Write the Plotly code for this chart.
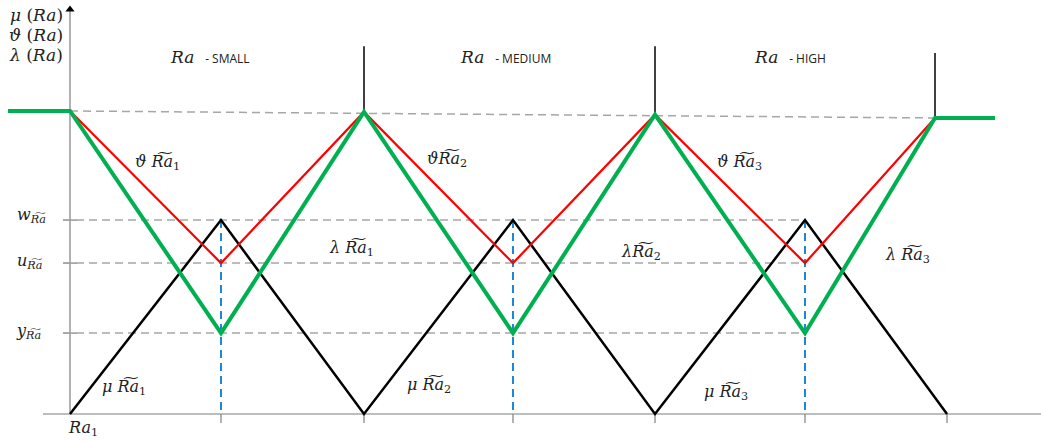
import plotly.graph_objects as go

# ---- data (x in arbitrary Ra units, y = membership) ----
ra_knots = [0, 151, 294, 443, 585, 735, 877]          # Ra1 ... Ra7 tick positions
peak_x = [0, 294, 585, 865]                            # peaks of the theta / lambda curves
peak_level = [1.0, 0.997, 0.988, 0.977]                # top level (slightly sloping)
trough_x = [151, 443, 735]                             # centres of the triangles
w_level = 0.640
u_level = 0.498
y_level = 0.267
flat_left_x = -62
flat_right_x = 925
post_top = [1.214, 1.214, 1.191]                       # top of vertical posts over peaks

mu_x = ra_knots
mu_y = [0, w_level, 0, w_level, 0, w_level, 0]
theta_x = [peak_x[0], trough_x[0], peak_x[1], trough_x[1], peak_x[2], trough_x[2], peak_x[3]]
theta_y = [peak_level[0], u_level, peak_level[1], u_level, peak_level[2], u_level, peak_level[3]]
lam_x = [flat_left_x] + theta_x + [flat_right_x]
lam_y = [peak_level[0], peak_level[0], y_level, peak_level[1], y_level, peak_level[2],
         y_level, peak_level[3], peak_level[3]]

TILDE_RA = "R\u0360a"
MATH_FONT = "DejaVu Serif"

fig = go.Figure()

def line(x, y, color, width, dash=None):
    fig.add_trace(go.Scatter(x=x, y=y, mode="lines", hoverinfo="skip", showlegend=False,
                             line=dict(color=color, width=width, dash=dash)))

GRAY = "#A6A6A6"
AXIS = "#7F7F7F"

# axes
line([-27, 971], [0, 0], AXIS, 1.2)
line([0, 0], [0, 1.33], AXIS, 1.2)
fig.add_trace(go.Scatter(x=[0], y=[1.335], mode="markers", hoverinfo="skip", showlegend=False,
                         marker=dict(symbol="triangle-up", size=8, color="black")))
for xk in ra_knots[1:]:
    line([xk, xk], [0, -0.03], AXIS, 1.2)
for lv in [w_level, u_level, y_level]:
    line([-7, 7], [lv, lv], AXIS, 1.2)

# gray dashed guides
for lv in [w_level, u_level, y_level]:
    line([-7, trough_x[-1]], [lv, lv], GRAY, 1.5, "8px,5px")
line([peak_x[0], peak_x[-1]], [peak_level[0], peak_level[-1]], GRAY, 1.5, "8px,5px")

# blue dashed verticals
for tx in trough_x:
    line([tx, tx], [w_level, 0], "#1E88D8", 2, "8px,5px")

# posts above peaks
for px, pl, pt in zip(peak_x[1:], peak_level[1:], post_top):
    line([px, px], [pl, pt], "black", 1.5)

line(mu_x, mu_y, "black", 2.5)
line(theta_x, theta_y, "#FF0000", 2.2)
line(lam_x, lam_y, "#00B050", 4)

def txt(x, y, s, size=16, xanchor="center", family=MATH_FONT):
    fig.add_annotation(x=x, y=y, xref="x", yref="y", text=s, showarrow=False,
                       xanchor=xanchor, yanchor="middle",
                       font=dict(family=family, size=size, color="#222222"))

# top-left axis title
txt(-5, 1.318, "<i>μ</i> (<i>Ra</i>)", 17, "right")
txt(-5, 1.252, "<i>ϑ</i> (<i>Ra</i>)", 17, "right")
txt(-5, 1.186, "<i>λ</i> (<i>Ra</i>)", 17, "right")

# region titles
small = "font-family:'Open Sans';font-size:12px"
txt(140, 1.178, f"<i>Ra</i>  <span style=\"{small}\">- SMALL</span>", 17)
txt(435, 1.178, f"<i>Ra</i>  <span style=\"{small}\">- MEDIUM</span>", 17)
txt(720, 1.178, f"<i>Ra</i>  <span style=\"{small}\">- HIGH</span>", 17)

# curve labels
curve_labels = [
    (87, 0.832, f"<i>ϑ {TILDE_RA}</i><sub>1</sub>"),
    (377, 0.842, f"<i>ϑ{TILDE_RA}</i><sub>2</sub>"),
    (669, 0.832, f"<i>ϑ {TILDE_RA}</i><sub>3</sub>"),
    (281, 0.548, f"<i>λ {TILDE_RA}</i><sub>1</sub>"),
    (571, 0.535, f"<i>λ{TILDE_RA}</i><sub>2</sub>"),
    (837, 0.525, f"<i>λ {TILDE_RA}</i><sub>3</sub>"),
    (54, 0.089, f"<i>μ {TILDE_RA}</i><sub>1</sub>"),
    (359, 0.096, f"<i>μ {TILDE_RA}</i><sub>2</sub>"),
    (656, 0.073, f"<i>μ {TILDE_RA}</i><sub>3</sub>"),
]
for x, y, s in curve_labels:
    txt(x, y, s, 16)

# level labels
txt(-22, 0.655, f"<i>w</i><sub><i>{TILDE_RA}</i></sub>", 16, "right")
txt(-26, 0.503, f"<i>u</i><sub><i>{TILDE_RA}</i></sub>", 16, "right")
txt(-27, 0.272, f"<i>y</i><sub><i>{TILDE_RA}</i></sub>", 16, "right")

txt(13, -0.047, "<i>Ra</i><sub>1</sub>", 16)

fig.update_layout(
    width=1041, height=442, autosize=False,
    margin=dict(l=0, r=0, t=0, b=0),
    paper_bgcolor="white", plot_bgcolor="white",
    xaxis=dict(range=[-70, 971], visible=False, fixedrange=True),
    yaxis=dict(range=[-0.0924, 1.3663], visible=False, fixedrange=True),
)

fig.write_html("out.html", config={"displayModeBar": False},
               post_script="document.body.style.margin='0';")
